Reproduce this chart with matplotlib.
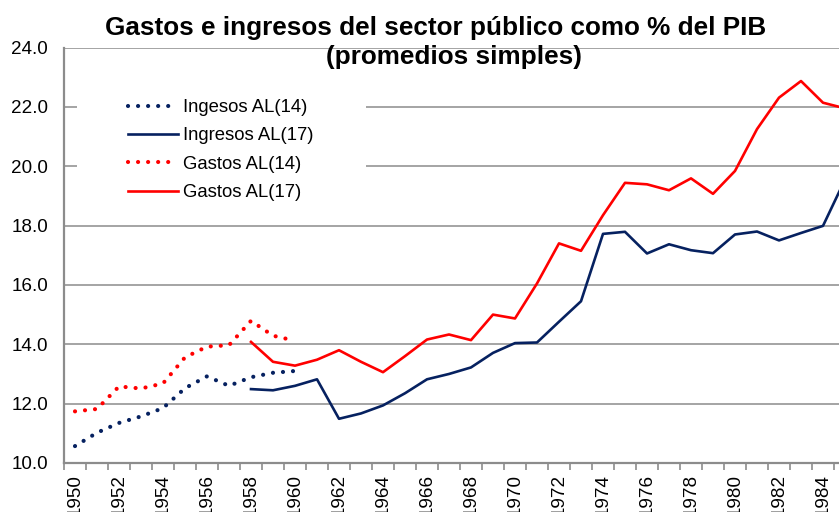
import numpy as np
import matplotlib
matplotlib.use("Agg")
import matplotlib.pyplot as plt
from matplotlib.patches import Rectangle

plt.rcParams['font.family'] = ['Liberation Sans', 'DejaVu Sans']

years_14 = np.arange(1950, 1961)
ingresos_14 = [10.57, 11.02, 11.35, 11.57, 11.85, 12.52, 12.92, 12.60, 12.89, 13.04, 13.10]
gastos_14 = [11.74, 11.82, 12.58, 12.51, 12.68, 13.56, 13.92, 13.97, 14.79, 14.29, 14.12]

years_17 = np.arange(1958, 1986)
ingresos_17 = [12.49, 12.45, 12.60, 12.82, 11.49, 11.67, 11.94, 12.35, 12.82, 13.00,
               13.22, 13.71, 14.04, 14.06, 14.76, 15.45, 17.72, 17.79, 17.06, 17.37,
               17.17, 17.07, 17.70, 17.80, 17.50, 17.75, 17.99, 19.55]
gastos_17 = [14.08, 13.41, 13.28, 13.48, 13.80, 13.41, 13.06, 13.60, 14.16, 14.33,
             14.14, 15.00, 14.87, 16.05, 17.40, 17.15, 18.35, 19.44, 19.39, 19.19,
             19.59, 19.07, 19.84, 21.25, 22.31, 22.87, 22.14, 21.95]

tick_years = np.arange(1950, 1985, 2)
y_ticks = np.arange(10, 24.1, 2)

navy = '#062160'
red = '#FF0000'
grey = '#8C8C8C'

fig = plt.figure(figsize=(8.39, 5.12), dpi=100)
ax = fig.add_axes([64 / 839, 1 - 463 / 512, 1 - 64 / 839, (463 - 47.5) / 512])

dots = (0, (0.01, 2.4))
ax.plot(years_14, ingresos_14, color=navy, lw=3.0, linestyle=dots,
        dash_capstyle='round', label='Ingesos AL(14)', zorder=3)
ax.plot(years_17, ingresos_17, color=navy, lw=1.9, label='Ingresos AL(17)', zorder=3)
ax.plot(years_14, gastos_14, color=red, lw=3.0, linestyle=dots,
        dash_capstyle='round', label='Gastos AL(14)', zorder=3)
ax.plot(years_17, gastos_17, color=red, lw=1.9, label='Gastos AL(17)', zorder=3)

ax.set_xticks(tick_years)
ax.set_xticklabels([str(y) for y in tick_years], rotation=90, fontsize=13.6)
ax.set_xticks(np.arange(1949.5, 1985, 1), minor=True)
ax.tick_params(axis='x', which='major', length=0, pad=7.8)
ax.tick_params(axis='x', which='minor', length=5, width=1.2, color=grey, direction='out')

ax.set_yticks(y_ticks)
ax.set_yticklabels([f'{v:.1f}' for v in y_ticks], fontsize=13.6)
ax.tick_params(axis='y', length=0, pad=11.5)

# limits after ticks so set_xticks does not widen the view
ax.set_xlim(1949.5, 1949.5 + 775 / 22)
ax.set_ylim(10, 24)

ax.set_axisbelow(True)
ax.grid(axis='y', color=grey, lw=1.1)
for side in ['top', 'right']:
    ax.spines[side].set_visible(False)
for side in ['left', 'bottom']:
    ax.spines[side].set_color(grey)
    ax.spines[side].set_linewidth(1.6)

# white area behind the legend
ax.add_patch(Rectangle(((77 - 64) / 775, (463 - 215) / 415.5), (366 - 77) / 775,
                       (215 - 85) / 415.5, transform=ax.transAxes,
                       facecolor='white', edgecolor='none', zorder=1))

ax.legend(loc='upper left', bbox_to_anchor=((128 - 64) / 775, (463 - 99) / 415.5),
          frameon=False, fontsize=13.3, handlelength=2.7, handletextpad=0.27,
          labelspacing=0.62, borderpad=0, borderaxespad=0)

fig.text(436 / 839, 1 - 35 / 512, 'Gastos e ingresos del sector público como % del PIB',
         ha='center', va='baseline', fontsize=18.8, fontweight='bold')
fig.text(454 / 839, 1 - 64 / 512, '(promedios simples)',
         ha='center', va='baseline', fontsize=18.8, fontweight='bold')

fig.savefig('out.png', dpi=100)
